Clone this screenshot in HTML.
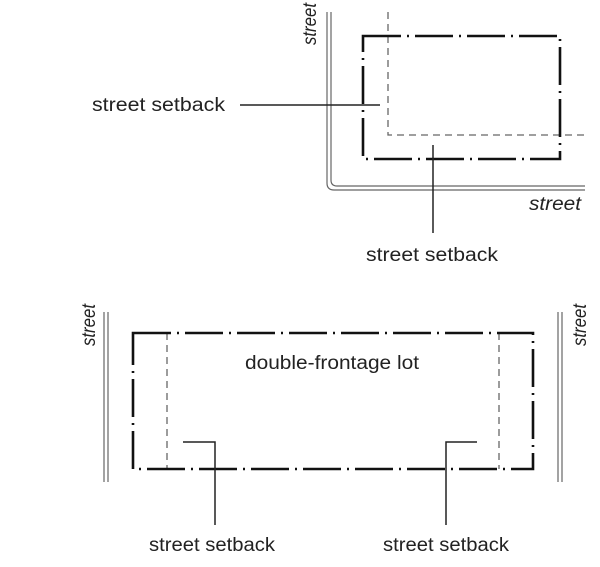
<!DOCTYPE html>
<html><head><style>body{margin:0;background:#fff}svg{display:block}</style></head>
<body>
<svg width="600" height="567" viewBox="0 0 600 567" xmlns="http://www.w3.org/2000/svg" font-family="Liberation Sans, sans-serif" fill="#222">
<g fill="none" stroke="#666" stroke-width="1.2">
  <path d="M327 12 V183 Q327 190 334 190 H585"/>
  <path d="M331 12 V180 Q331 186 337 186 H585"/>
  <path d="M104 312 V482 M108 312 V482 M558 312 V482 M562 312 V482"/>
</g>
<g fill="none" stroke="#666" stroke-width="1.3" stroke-dasharray="7,5">
  <path d="M388 12 V135 H585"/>
  <path d="M167 333 V469 M499 333 V469"/>
</g>
<g fill="none" stroke="#111" stroke-width="2.6" stroke-dasharray="38,6,2,6">
  <rect x="363" y="36" width="197" height="123"/>
  <rect x="133" y="333" width="400" height="136"/>
</g>
<g fill="none" stroke="#222" stroke-width="1.5">
  <path d="M240 105 H380"/>
  <path d="M433 145 V233"/>
  <path d="M183 442 H215 V525"/>
  <path d="M477 442 H446 V525"/>
</g>
<g font-size="19">
  <text x="92" y="111" textLength="133" lengthAdjust="spacingAndGlyphs">street setback</text>
  <text x="366" y="261" textLength="132" lengthAdjust="spacingAndGlyphs">street setback</text>
  <text x="149" y="551" textLength="126" lengthAdjust="spacingAndGlyphs">street setback</text>
  <text x="383" y="551" textLength="126" lengthAdjust="spacingAndGlyphs">street setback</text>
  <text x="245" y="369" textLength="174" lengthAdjust="spacingAndGlyphs">double-frontage lot</text>
  <text x="529" y="210" font-style="italic" textLength="52" lengthAdjust="spacingAndGlyphs">street</text>
  <text transform="translate(316,45) rotate(-90)" font-style="italic" textLength="42" lengthAdjust="spacingAndGlyphs">street</text>
  <text transform="translate(95,346) rotate(-90)" font-style="italic" textLength="42" lengthAdjust="spacingAndGlyphs">street</text>
  <text transform="translate(586,346) rotate(-90)" font-style="italic" textLength="42" lengthAdjust="spacingAndGlyphs">street</text>
</g>
</svg>
</body></html>
